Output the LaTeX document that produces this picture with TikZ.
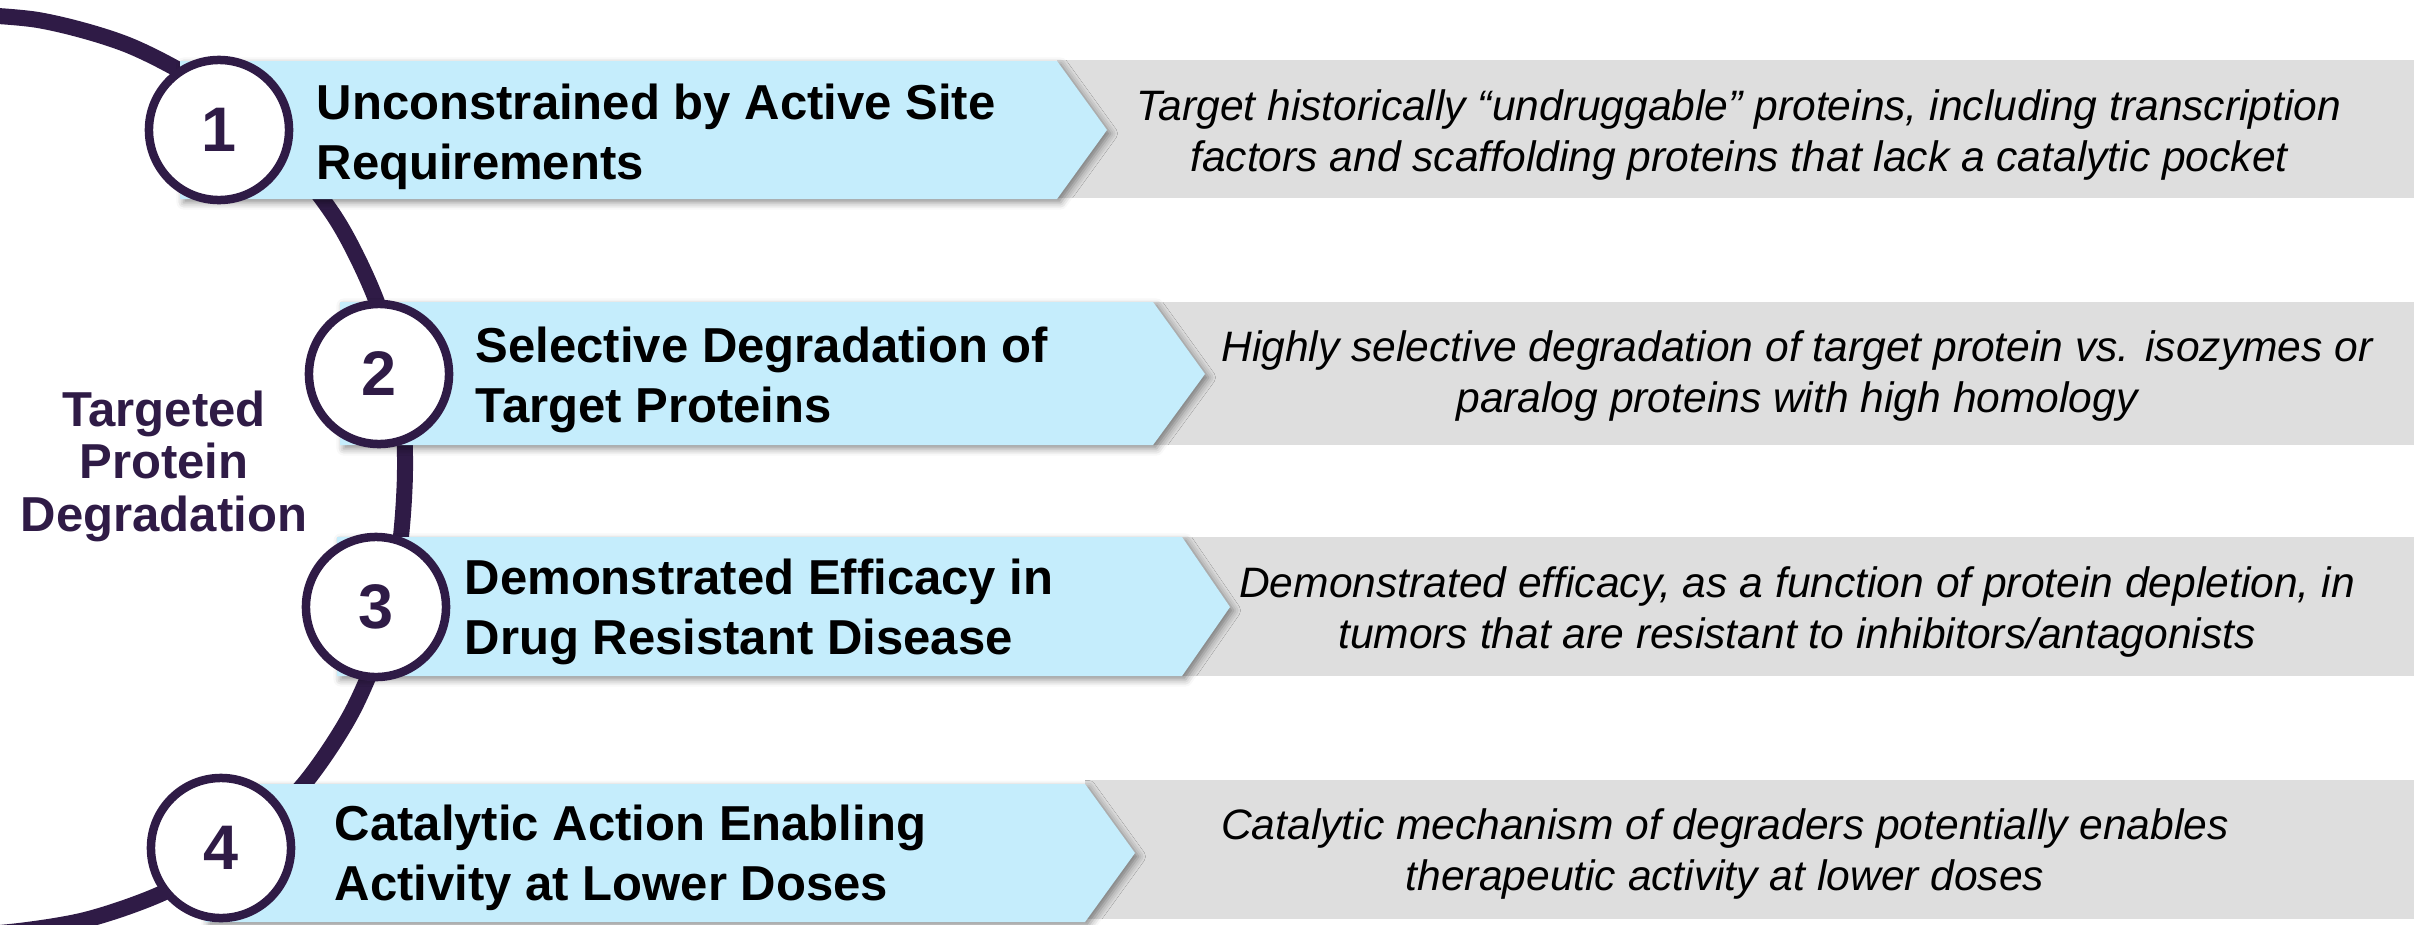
\documentclass[tikz,border=0pt]{standalone}
\usepackage{fontspec}
\setmainfont{Liberation Sans}
\usepackage{xcolor}
\usepackage{tikz}
\usetikzlibrary{shadows.blur}

\definecolor{tpdpurple}{RGB}{47,27,70}
\definecolor{tpdblue}{RGB}{197,237,252}
\definecolor{tpdgrey}{RGB}{222,222,222}

\begin{document}
\begin{tikzpicture}[
        x=0.01cm, y=-0.01cm,
        band/.style={fill=tpdgrey, draw=none},
        chevron/.style={fill=tpdblue, draw=none,
            blur shadow={shadow xshift=1pt, shadow yshift=-1pt,
                shadow blur radius=2pt, shadow opacity=45}},
        spine/.style={draw=tpdpurple, line width=0.16cm},
        num/.style={circle, draw=tpdpurple, line width=0.085cm, fill=white,
            minimum size=1.4cm, inner sep=0pt, text=tpdpurple,
            font=\fontsize{17.9pt}{20pt}\selectfont\bfseries},
        head/.style={anchor=west, align=left, inner sep=0pt,
            font=\fontsize{13.95pt}{17.07pt}\selectfont\bfseries},
        desc/.style={align=center, inner sep=0pt,
            font=\fontsize{12.1pt}{14.52pt}\selectfont\itshape}
    ]
    \useasboundingbox (0,0) rectangle (2424,924);

    % Purple spine behind everything
    \begin{scope}
        \clip (0,0) rectangle (2424,924);
        \draw[spine] plot[smooth] coordinates {
            (-60,13) (38,20) (128,45) (210,89) (281,149) (338,222)
            (378,305) (401,395) (405,470) (400,545) (385,631) (352,712)
            (304,784) (241,845) (167,891) (85,920) (-1,933) (-60,931)};
    \end{scope}

    % Grey bands
    \path[band] (1057,60) rectangle (2414,198);
    \path[band] (1153,302) rectangle (2414,445);
    \path[band] (1182,537) rectangle (2414,676);
    \path[band] (1085,780) rectangle (2414,919);

    % Blue chevrons
    \path[chevron] (180,61) -- (1057,61) -- (1107,130) -- (1057,199) -- (180,199) -- cycle;
    \path[chevron] (340,302) -- (1153,302) -- (1205,374) -- (1153,445) -- (340,445) -- cycle;
    \path[chevron] (337,537) -- (1182,537) -- (1230,607) -- (1182,676) -- (337,676) -- cycle;
    \path[chevron] (205,784) -- (1085,784) -- (1135,853) -- (1085,922) -- (205,922) -- cycle;

    % Numbered circles
    \node[num] (N1) at (219,130) {1};
    \node[num] (N2) at (379,374) {2};
    \node[num] (N3) at (376,607) {3};
    \node[num] (N4) at (221,848) {4};

    % Headings
    \node[head] (H1) at (316,137) {Unconstrained by Active Site\\Requirements};
    \node[head] (H2) at (475,380) {Selective Degradation of\\Target Proteins};
    \node[head] (H3) at (464,612) {Demonstrated Efficacy in\\Drug Resistant Disease};
    \node[head] (H4) at (334,858) {Catalytic Action Enabling\\Activity at Lower Doses};

    % Descriptions
    \node[desc] (D1) at (1739,135) {Target historically “undruggable” proteins, including transcription\\factors and scaffolding proteins that lack a catalytic pocket};
    \node[desc] (D2) at (1797,376) {Highly selective degradation of target protein vs. isozymes or\\paralog proteins with high homology};
    \node[desc] (D3) at (1797,612) {Demonstrated efficacy, as a function of protein depletion, in\\tumors that are resistant to inhibitors/antagonists};
    \node[desc] (D4) at (1725,854) {Catalytic mechanism of degraders potentially enables\\therapeutic activity at lower doses};

    % Title on the left
    \node[align=center, inner sep=0pt, text=tpdpurple,
        font=\fontsize{13.95pt}{14.94pt}\selectfont\bfseries] (T) at (164,466)
        {Targeted\\Protein\\Degradation};

\end{tikzpicture}
\end{document}
